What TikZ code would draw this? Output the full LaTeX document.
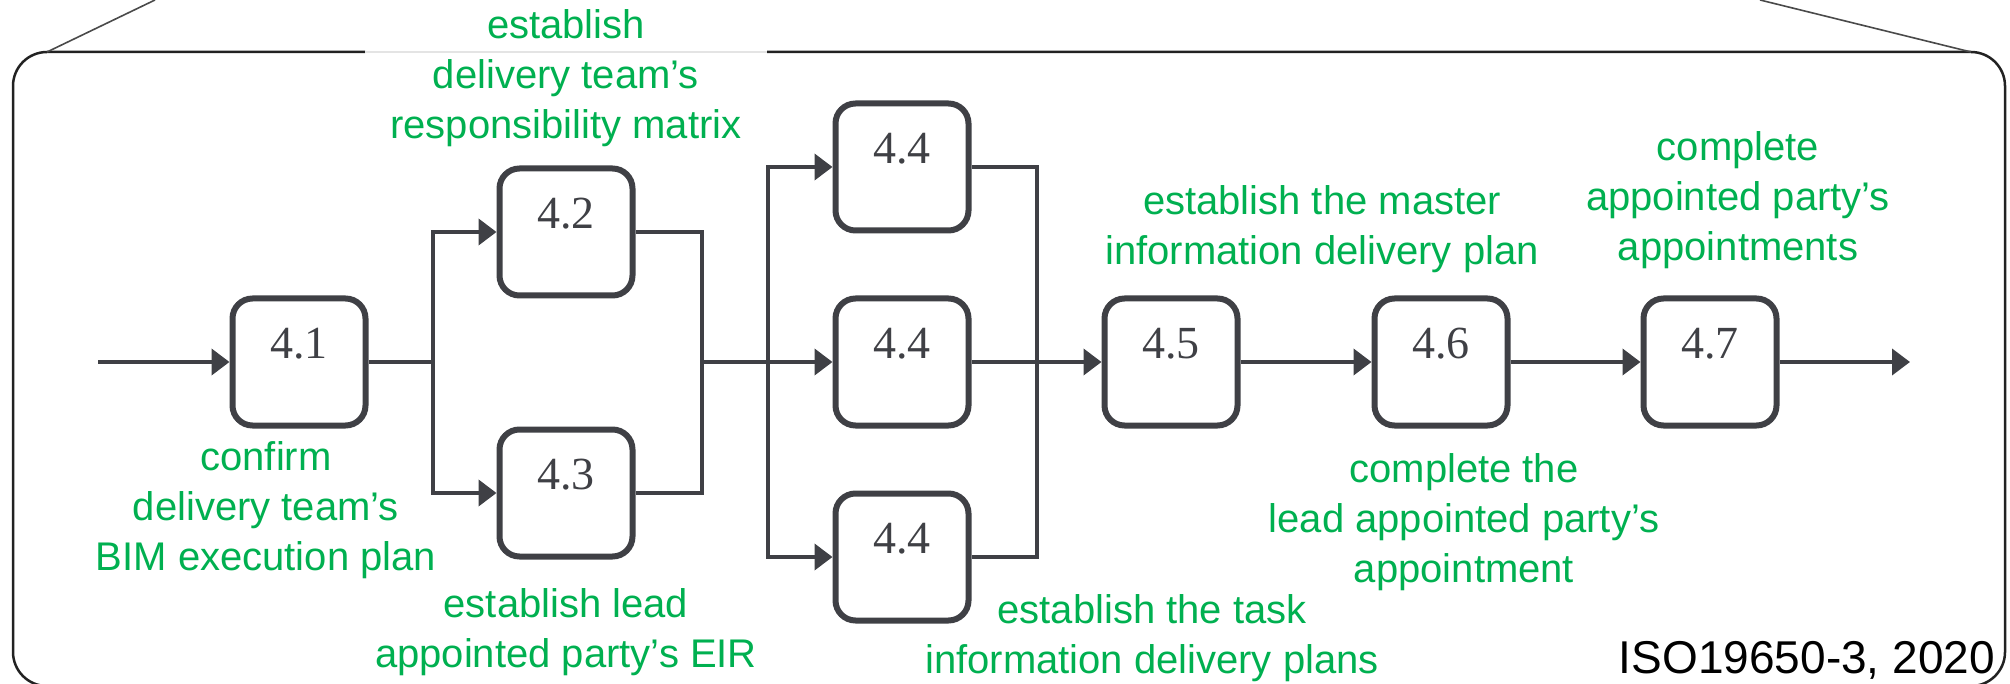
\documentclass[tikz,border=0pt]{standalone}
\usepackage{fontspec}
\setmainfont{Liberation Sans}
\newfontfamily\numfont{Liberation Serif}
\usetikzlibrary{arrows.meta}
\definecolor{ink}{HTML}{3F4045}
\definecolor{lblgreen}{HTML}{00B050}
\definecolor{framec}{HTML}{222222}
\definecolor{gapc}{HTML}{E4E4E4}
\definecolor{diagc}{HTML}{4A4A4A}

\begin{document}
\begin{tikzpicture}[x=1pt,y=-1pt,
  stepbox/.style={draw=ink, line width=6pt, rounded corners=20pt,
    minimum width=133pt, minimum height=127pt, inner sep=0pt,
    text=ink, font=\numfont\fontsize{46}{46}\selectfont,
    text height=30pt, text depth=37pt},
  flow/.style={draw=ink, line width=4pt},
  arr/.style={flow, -{Triangle[length=18pt,width=26pt]}},
  lbl/.style={text=lblgreen, align=center, inner sep=0pt,
    font=\fontsize{40}{50}\selectfont},
  framepath/.style={draw=framec, line width=2.5pt},
  diag/.style={draw=diagc, line width=1.6pt}]

\useasboundingbox (0,0) rectangle (2010,684);
\clip (0,0) rectangle (2010,684);

% outer frame with its light segment on top
\draw[framepath, rounded corners=34pt]
  (365,52) -- (13,52) -- (13,686) -- (2005,686) -- (2005,52) -- (767,52);
\draw[draw=gapc, line width=2.5pt] (365,52) -- (767,52);
\draw[diag] (47,52) -- (155,0);
\draw[diag] (1971,52) -- (1760,0);

% process steps
\node[stepbox] (s41)  at (299,362)  {4.1};
\node[stepbox] (s42)  at (566,232)  {4.2};
\node[stepbox] (s43)  at (566,493)  {4.3};
\node[stepbox] (s44a) at (902,167)  {4.4};
\node[stepbox] (s44b) at (902,362)  {4.4};
\node[stepbox] (s44c) at (902,557)  {4.4};
\node[stepbox] (s45)  at (1171,362) {4.5};
\node[stepbox] (s46)  at (1441,362) {4.6};
\node[stepbox] (s47)  at (1710,362) {4.7};

% junction points on the main line
\coordinate (in)  at (98,362);
\coordinate (j1)  at (433,362);
\coordinate (m1)  at (702,362);
\coordinate (j2)  at (768,362);
\coordinate (m2)  at (1037,362);
\coordinate (out) at (1910,362);

% connectors
\draw[arr]  (in) -- (s41.west);
\draw[flow] (s41.east) -- (j1);
\draw[arr]  (j1) |- (s42.west);
\draw[arr]  (j1) |- (s43.west);
\draw[flow] (s42.east) -| (m1);
\draw[flow] (s43.east) -| (m1);
\draw[arr]  (m1) -- (s44b.west);
\draw[arr]  (j2) |- (s44a.west);
\draw[arr]  (j2) |- (s44c.west);
\draw[flow] (s44a.east) -| (m2);
\draw[flow] (s44c.east) -| (m2);
\draw[arr]  (s44b.east) -- (s45.west);
\draw[arr]  (s45.east) -- (s46.west);
\draw[arr]  (s46.east) -- (s47.west);
\draw[arr]  (s47.east) -- (out);

% step descriptions
\node[lbl] (tA) at (566,78)   {establish\\delivery team’s\\responsibility matrix};
\node[lbl] (tB) at (266,510)  {confirm\\delivery team’s\\BIM execution plan};
\node[lbl] (tC) at (566,632)  {establish lead\\appointed party’s EIR};
\node[lbl] (tD) at (1152,638) {establish the task\\information delivery plans};
\node[lbl] (tE) at (1322,229) {establish the master\\information delivery plan};
\node[lbl] (tF) at (1738,200) {complete\\appointed party’s\\appointments};
\node[lbl] (tG) at (1464,522) {complete the\\lead appointed party’s\\appointment};

% source note
\node[anchor=base east, inner sep=0pt, font=\fontsize{46}{46}\selectfont]
  (src) at (1995,673) {ISO19650-3, 2020};
\end{tikzpicture}
\end{document}
